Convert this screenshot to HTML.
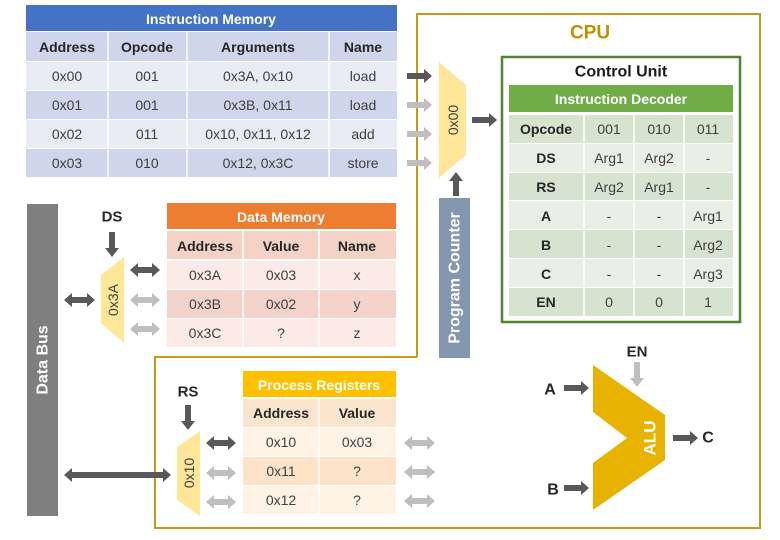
<!DOCTYPE html>
<html><head><meta charset="utf-8"><style>
html,body{margin:0;padding:0;background:#fff;}
svg{display:block;font-family:"Liberation Sans",sans-serif;}
.t{font-size:14px;fill:#404040;text-anchor:middle;dominant-baseline:central;}
.h{font-size:14px;font-weight:bold;fill:#262626;text-anchor:middle;dominant-baseline:central;}
.w{font-size:14px;font-weight:bold;fill:#fff;text-anchor:middle;dominant-baseline:central;}
.d{fill:#595959;}
.l{fill:#BFBFBF;}
</style></head><body>
<svg width="780" height="540" viewBox="0 0 780 540">
<!-- CPU border -->
<polyline points="417,357 417,14 760,14 760,528 155,528 155,357 417,357" fill="none" stroke="#C49A18" stroke-width="2"/>
<text x="590" y="33" style="font-size:19px;font-weight:bold;fill:#BF9000;text-anchor:middle;dominant-baseline:central;">CPU</text>

<!-- Instruction Memory -->
<rect x="26" y="5" width="371" height="26" fill="#4472C4"/>
<text class="w" x="211" y="19">Instruction Memory</text>
<rect x="26" y="32" width="371" height="29" fill="#CFD5EA"/>
<rect x="26" y="62" width="371" height="28" fill="#E9EBF5"/>
<rect x="26" y="91" width="371" height="28" fill="#CFD5EA"/>
<rect x="26" y="120" width="371" height="28" fill="#E9EBF5"/>
<rect x="26" y="149" width="371" height="28" fill="#CFD5EA"/>
<g stroke="#fff" stroke-width="1.5">
<line x1="108" y1="32" x2="108" y2="177"/><line x1="187" y1="32" x2="187" y2="177"/><line x1="329" y1="32" x2="329" y2="177"/>
</g>
<text class="h" x="67" y="47">Address</text><text class="h" x="147" y="47">Opcode</text><text class="h" x="258" y="47">Arguments</text><text class="h" x="363" y="47">Name</text>
<text class="t" x="67" y="76">0x00</text><text class="t" x="147" y="76">001</text><text class="t" x="258" y="76">0x3A, 0x10</text><text class="t" x="363" y="76">load</text>
<text class="t" x="67" y="105">0x01</text><text class="t" x="147" y="105">001</text><text class="t" x="258" y="105">0x3B, 0x11</text><text class="t" x="363" y="105">load</text>
<text class="t" x="67" y="134">0x02</text><text class="t" x="147" y="134">011</text><text class="t" x="258" y="134">0x10, 0x11, 0x12</text><text class="t" x="363" y="134">add</text>
<text class="t" x="67" y="163">0x03</text><text class="t" x="147" y="163">010</text><text class="t" x="258" y="163">0x12, 0x3C</text><text class="t" x="363" y="163">store</text>

<!-- arrows into mux 0x00 -->
<polygon class="d" points="407,73 424,73 424,69 432,76 424,83 424,79 407,79"/>
<polygon class="l" points="407,102 424,102 424,98 432,105 424,112 424,108 407,108"/>
<polygon class="l" points="407,131 424,131 424,127 432,134 424,141 424,137 407,137"/>
<polygon class="l" points="407,160 424,160 424,156 432,163 424,170 424,166 407,166"/>
<polygon points="439,62 466,85 466,155 439,178" fill="#FFE699"/>
<text class="t" x="0" y="0" transform="translate(453,120) rotate(-90)">0x00</text>
<polygon class="d" points="472,117 489,117 489,113 497,120 489,127 489,123 472,123"/>
<polygon class="d" points="453,196 453,181 449,181 456,172 463,181 459,181 459,196"/>

<!-- Program counter -->
<rect x="439" y="198" width="31" height="160" fill="#8497B0"/>
<text class="w" x="0" y="0" transform="translate(455,278) rotate(-90)" style="font-size:16px">Program Counter</text>

<!-- Control Unit -->
<rect x="502" y="57" width="238" height="265" fill="#fff" stroke="#548235" stroke-width="2.5"/>
<text x="621" y="72" style="font-size:16px;font-weight:bold;fill:#1a1a1a;text-anchor:middle;dominant-baseline:central;">Control Unit</text>
<rect x="509" y="85" width="224" height="27" fill="#70AD47"/>
<text class="w" x="621" y="99">Instruction Decoder</text>
<rect x="509" y="115" width="224" height="28" fill="#D6E3CF"/>
<rect x="509" y="144" width="224" height="28" fill="#E9EFE6"/>
<rect x="509" y="173" width="224" height="27" fill="#D6E3CF"/>
<rect x="509" y="201" width="224" height="28" fill="#E9EFE6"/>
<rect x="509" y="230" width="224" height="28" fill="#D6E3CF"/>
<rect x="509" y="259" width="224" height="28" fill="#E9EFE6"/>
<rect x="509" y="288" width="224" height="28" fill="#D6E3CF"/>
<g stroke="#fff" stroke-width="1.5"><line x1="584" y1="115" x2="584" y2="316"/><line x1="634" y1="115" x2="634" y2="316"/><line x1="684" y1="115" x2="684" y2="316"/></g>
<text class="h" x="546" y="129">Opcode</text><text class="t" x="609" y="129">001</text><text class="t" x="659" y="129">010</text><text class="t" x="708" y="129">011</text>
<text class="h" x="546" y="158">DS</text><text class="t" x="609" y="158">Arg1</text><text class="t" x="659" y="158">Arg2</text><text class="t" x="708" y="158">-</text>
<text class="h" x="546" y="187">RS</text><text class="t" x="609" y="187">Arg2</text><text class="t" x="659" y="187">Arg1</text><text class="t" x="708" y="187">-</text>
<text class="h" x="546" y="216">A</text><text class="t" x="609" y="216">-</text><text class="t" x="659" y="216">-</text><text class="t" x="708" y="216">Arg1</text>
<text class="h" x="546" y="245">B</text><text class="t" x="609" y="245">-</text><text class="t" x="659" y="245">-</text><text class="t" x="708" y="245">Arg2</text>
<text class="h" x="546" y="274">C</text><text class="t" x="609" y="274">-</text><text class="t" x="659" y="274">-</text><text class="t" x="708" y="274">Arg3</text>
<text class="h" x="546" y="302">EN</text><text class="t" x="609" y="302">0</text><text class="t" x="659" y="302">0</text><text class="t" x="708" y="302">1</text>

<!-- Data Bus -->
<rect x="27" y="204" width="31" height="312" fill="#7F7F7F"/>
<text class="w" x="0" y="0" transform="translate(43,360) rotate(-90)" style="font-size:16px">Data Bus</text>

<!-- DS mux -->
<text class="h" x="112" y="217" style="font-size:15px">DS</text>
<polygon class="d" points="109,232 115,232 115,248 119,248 112,257 105,248 109,248"/>
<polygon points="101,275 124,257 124,343 101,323" fill="#FFE699"/>
<text class="t" x="0" y="0" transform="translate(113,300) rotate(-90)">0x3A</text>
<polygon class="d" points="64,300 72,293 72,297 87,297 87,293 95,300 87,307 87,303 72,303 72,307"/>
<polygon class="d" points="130,270 138,263 138,267 152,267 152,263 160,270 152,277 152,273 138,273 138,277"/>
<polygon class="l" points="130,300 138,293 138,297 152,297 152,293 160,300 152,307 152,303 138,303 138,307"/>
<polygon class="l" points="130,329 138,322 138,326 152,326 152,322 160,329 152,336 152,332 138,332 138,336"/>

<!-- Data Memory -->
<rect x="167" y="203" width="229" height="26" fill="#ED7D31"/>
<text class="w" x="281" y="217">Data Memory</text>
<rect x="167" y="231" width="229" height="28" fill="#F4D2C5"/>
<rect x="167" y="261" width="229" height="28" fill="#FBEAE5"/>
<rect x="167" y="290" width="229" height="28" fill="#F4D4CA"/>
<rect x="167" y="319" width="229" height="28" fill="#FBEAE5"/>
<g stroke="#fff" stroke-width="1.5"><line x1="243" y1="231" x2="243" y2="347"/><line x1="319" y1="231" x2="319" y2="347"/></g>
<text class="h" x="205" y="246">Address</text><text class="h" x="281" y="246">Value</text><text class="h" x="357" y="246">Name</text>
<text class="t" x="205" y="275">0x3A</text><text class="t" x="281" y="275">0x03</text><text class="t" x="357" y="275">x</text>
<text class="t" x="205" y="304">0x3B</text><text class="t" x="281" y="304">0x02</text><text class="t" x="357" y="304">y</text>
<text class="t" x="205" y="333">0x3C</text><text class="t" x="281" y="333">?</text><text class="t" x="357" y="333">z</text>

<!-- RS mux -->
<text class="h" x="188" y="392" style="font-size:15px">RS</text>
<polygon class="d" points="185,405 191,405 191,421 195,421 188,430 181,421 185,421"/>
<polygon points="177,447 200,431 200,516 177,500" fill="#FFE699"/>
<text class="t" x="0" y="0" transform="translate(189,473) rotate(-90)">0x10</text>
<polygon class="d" points="64,475 72,468 72,472 163,472 163,468 171,475 163,482 163,478 72,478 72,482"/>
<polygon class="d" points="206,443 214,436 214,440 228,440 228,436 236,443 228,450 228,446 214,446 214,450"/>
<polygon class="l" points="206,473 214,466 214,470 228,470 228,466 236,473 228,480 228,476 214,476 214,480"/>
<polygon class="l" points="206,502 214,495 214,499 228,499 228,495 236,502 228,509 228,505 214,505 214,509"/>

<!-- Process Registers -->
<rect x="243" y="371" width="153" height="26" fill="#FFC000"/>
<text class="w" x="319" y="385">Process Registers</text>
<rect x="243" y="399" width="153" height="28" fill="#FBE5CC"/>
<rect x="243" y="428" width="153" height="28" fill="#FFF3E6"/>
<rect x="243" y="457" width="153" height="28" fill="#FDE4C9"/>
<rect x="243" y="486" width="153" height="28" fill="#FFF3E6"/>
<line x1="319" y1="399" x2="319" y2="514" stroke="#fff" stroke-width="1.5"/>
<text class="h" x="281" y="413">Address</text><text class="h" x="357" y="413">Value</text>
<text class="t" x="281" y="442">0x10</text><text class="t" x="357" y="442">0x03</text>
<text class="t" x="281" y="471">0x11</text><text class="t" x="357" y="471">?</text>
<text class="t" x="281" y="500">0x12</text><text class="t" x="357" y="500">?</text>
<polygon class="l" points="404,443 412,436 412,440 427,440 427,436 435,443 427,450 427,446 412,446 412,450"/>
<polygon class="l" points="404,472 412,465 412,469 427,469 427,465 435,472 427,479 427,475 412,475 412,479"/>
<polygon class="l" points="404,501 412,494 412,498 427,498 427,494 435,501 427,508 427,504 412,504 412,508"/>

<!-- ALU -->
<polygon points="593,365 665,415 665,460 593,510 593,463 627,438 593,412" fill="#E8B200"/>
<text class="w" x="0" y="0" transform="translate(650,438) rotate(-90)" style="font-size:17px">ALU</text>
<text class="h" x="550" y="390" style="font-size:16px">A</text>
<polygon class="d" points="564,385 581,385 581,381 589,388 581,395 581,391 564,391"/>
<text class="h" x="553" y="490" style="font-size:16px">B</text>
<polygon class="d" points="564,485 581,485 581,481 589,488 581,495 581,491 564,491"/>
<text class="h" x="637" y="352" style="font-size:15px">EN</text>
<polygon class="l" points="634,362 640,362 640,378 644,378 637,387 630,378 634,378"/>
<polygon class="d" points="673,435 690,435 690,431 698,438 690,445 690,441 673,441"/>
<text class="h" x="708" y="438" style="font-size:16px">C</text>
</svg>
</body></html>
